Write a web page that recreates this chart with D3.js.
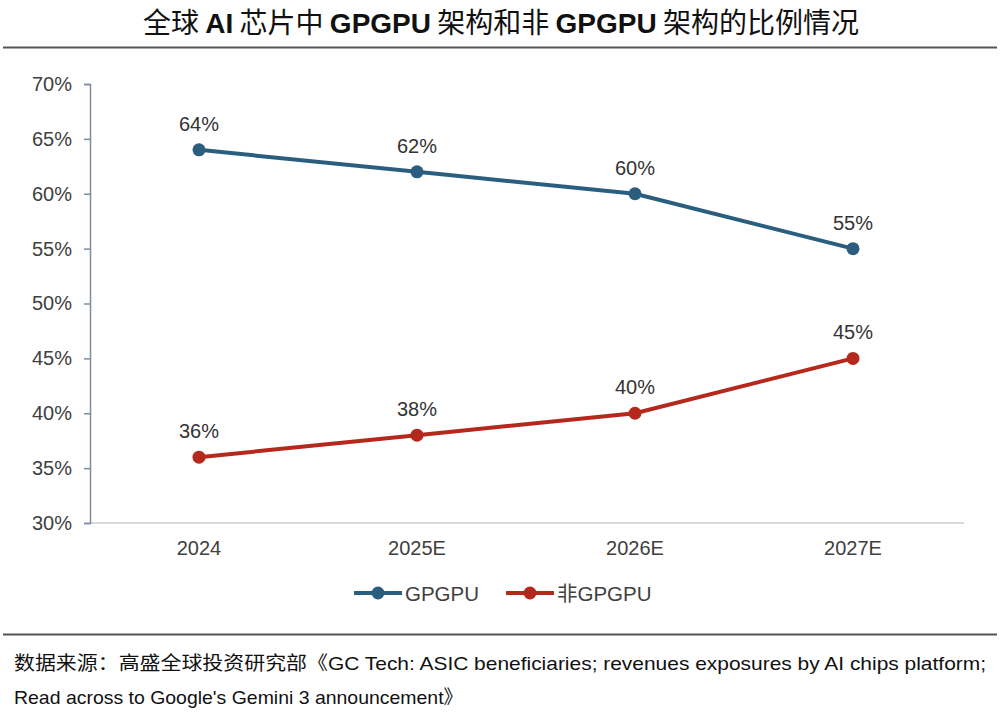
<!DOCTYPE html>
<html>
<head>
<meta charset="utf-8">
<script src="https://cdn.jsdelivr.net/npm/d3@7"></script>
<style>
body { margin: 0; background: #fff; }
svg { display: block; }
</style>
</head>
<body>
<div id="chart"></div>
<script>
// chart data
const years = ["2024", "2025E", "2026E", "2027E"]
const gpgpu = [64, 62, 60, 55]
const nonGpgpu = [36, 38, 40, 45]
const yTicks = [30, 35, 40, 45, 50, 55, 60, 65, 70]
const seriesNames = ["GPGPU", "非GPGPU"]
const seriesColors = ["#2b5e7e", "#b5281c"]

const width = 1000, height = 718
const cjk = "'Noto Sans CJK SC', 'Noto Sans', sans-serif"
const latin = "'Liberation Sans', Arial, sans-serif"

const svg = d3.select("#chart")
	.append("svg")
	.attr("width", width)
	.attr("height", height)

// title, CJK regular with bold latin runs
const titleParts = [
	["全球 ", false], ["AI", true], [" 芯片中 ", false], ["GPGPU", true],
	[" 架构和非 ", false], ["GPGPU", true], [" 架构的比例情况", false]
]
const title = svg.append("text")
	.attr("x", 501)
	.attr("y", 33)
	.attr("text-anchor", "middle")
	.attr("font-size", 28)
	.attr("fill", "#111")
title.selectAll("tspan")
	.data(titleParts)
	.enter()
	.append("tspan")
	.attr("font-family", (d) => d[1] ? latin : cjk)
	.attr("font-weight", (d) => d[1] ? "bold" : "normal")
	.text((d) => d[0])

svg.append("line")
	.attr("x1", 3).attr("x2", 997)
	.attr("y1", 47.5).attr("y2", 47.5)
	.attr("stroke", "#555")
	.attr("stroke-width", 2)

const x = d3.scaleBand()
	.domain(years)
	.range([90, 962])

const y = d3.scaleLinear()
	.domain([30, 70])
	.range([523, 84])

// x axis baseline
svg.append("line")
	.attr("x1", 90).attr("x2", 964)
	.attr("y1", 523).attr("y2", 523)
	.attr("stroke", "#d9d9d9")
	.attr("stroke-width", 2)

const yAxis = svg.append("g")
	.attr("transform", "translate(90,0)")
	.call(d3.axisLeft(y)
		.tickValues(yTicks)
		.tickSize(6)
		.tickPadding(12)
		.tickFormat((d) => d + "%"))
yAxis.select(".domain").attr("stroke", "#7d8c9c").attr("stroke-width", 1.5)
yAxis.selectAll(".tick line").attr("stroke", "#7d8c9c").attr("stroke-width", 1.5)
yAxis.selectAll(".tick text")
	.attr("font-family", latin)
	.attr("font-size", 20)
	.attr("fill", "#404040")

const xAxis = svg.append("g")
	.attr("transform", "translate(0,523)")
	.call(d3.axisBottom(x).tickSize(0).tickPadding(18))
xAxis.select(".domain").remove()
xAxis.selectAll(".tick text")
	.attr("font-family", latin)
	.attr("font-size", 20)
	.attr("fill", "#404040")

const series = [gpgpu, nonGpgpu]
const line = d3.line()
	.x((d, i) => x(years[i]) + x.bandwidth() / 2)
	.y((d) => y(d))

series.forEach((values, s) => {
	const g = svg.append("g")
	g.append("path")
		.datum(values)
		.attr("d", line)
		.attr("fill", "none")
		.attr("stroke", seriesColors[s])
		.attr("stroke-width", 4)
	g.selectAll("circle")
		.data(values)
		.enter()
		.append("circle")
		.attr("cx", (d, i) => x(years[i]) + x.bandwidth() / 2)
		.attr("cy", (d) => y(d))
		.attr("r", 6.5)
		.attr("fill", seriesColors[s])
	g.selectAll("text")
		.data(values)
		.enter()
		.append("text")
		.attr("x", (d, i) => x(years[i]) + x.bandwidth() / 2)
		.attr("y", (d) => y(d) - 19)
		.attr("text-anchor", "middle")
		.attr("font-family", latin)
		.attr("font-size", 20)
		.attr("fill", "#333")
		.text((d) => d + "%")
})

// legend
const legendX = [354, 506]
seriesNames.forEach((name, s) => {
	const lg = svg.append("g").attr("transform", `translate(${legendX[s]},593)`)
	lg.append("line")
		.attr("x1", 0).attr("x2", 48)
		.attr("y1", 0).attr("y2", 0)
		.attr("stroke", seriesColors[s])
		.attr("stroke-width", 4)
	lg.append("circle")
		.attr("cx", 24).attr("cy", 0).attr("r", 6.5)
		.attr("fill", seriesColors[s])
	lg.append("text")
		.attr("x", 51).attr("y", 7.5)
		.attr("font-family", `${latin.split(",")[0]}, ${cjk}`)
		.attr("font-size", 20.5)
		.attr("fill", "#404040")
		.text(name)
})

svg.append("line")
	.attr("x1", 3).attr("x2", 997)
	.attr("y1", 634.5).attr("y2", 634.5)
	.attr("stroke", "#555")
	.attr("stroke-width", 2)

// source note
const notes = [
	"数据来源：高盛全球投资研究部《GC Tech: ASIC beneficiaries; revenues exposures by AI chips platform;",
	"Read across to Google's Gemini 3 announcement》"
]
const noteW = [972, 449]
svg.selectAll(".note")
	.data(notes)
	.enter()
	.append("text")
	.attr("class", "note")
	.attr("x", 14)
	.attr("y", (d, i) => 670 + i * 34)
	.attr("font-family", "'Liberation Sans Narrow', " + latin + ", " + cjk)
	.attr("font-size", 19)
	.attr("fill", "#111")
	.attr("textLength", (d, i) => noteW[i])
	.attr("lengthAdjust", "spacingAndGlyphs")
	.text((d) => d)
</script>
</body>
</html>
